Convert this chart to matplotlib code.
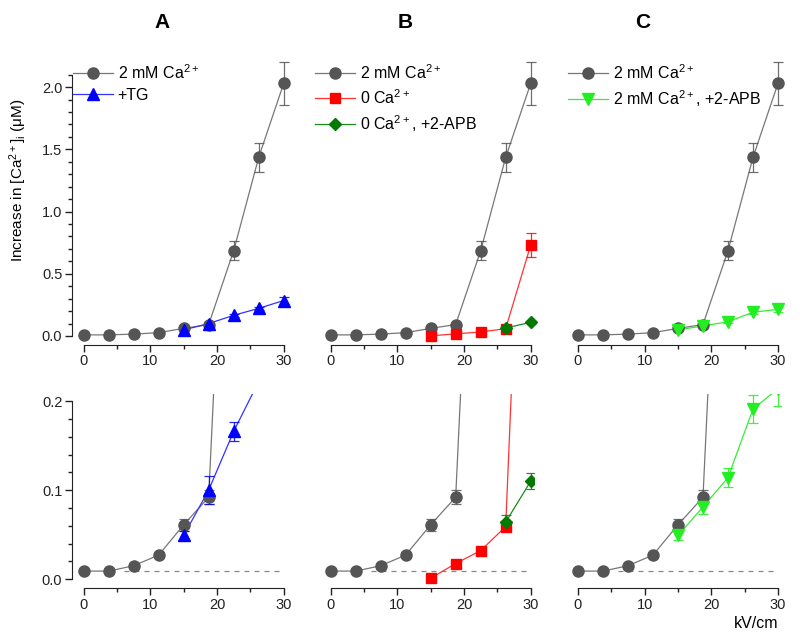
import matplotlib
matplotlib.use("Agg")
import matplotlib.pyplot as plt
from matplotlib.ticker import MultipleLocator

plt.rcParams['font.family'] = ['Liberation Sans', 'DejaVu Sans']
plt.rcParams['mathtext.default'] = 'regular'

# field strength (kV/cm)
kv = [0, 3.75, 7.5, 11.25, 15, 18.75, 22.5, 26.25, 30]
kv_hi = [15, 18.75, 22.5, 26.25, 30]
kv_end = [26.25, 30]

# 2 mM Ca2+ (control, shown in every panel)
ctrl = [0.009, 0.009, 0.015, 0.027, 0.061, 0.092, 0.685, 1.435, 2.03]
ctrl_err = [0.001, 0.001, 0.002, 0.003, 0.007, 0.008, 0.078, 0.115, 0.171]

# A: +TG
tg = [0.049, 0.100, 0.166, 0.222, 0.285]
tg_err = [0.005, 0.016, 0.011, 0.012, 0.03]

# B: 0 Ca2+ and 0 Ca2+ +2-APB
zero = [0.001, 0.0175, 0.032, 0.059, 0.73]
zero_err = [0.002, 0.002, 0.003, 0.004, 0.095]
zero_apb = [0.064, 0.110]
zero_apb_err = [0.008, 0.009]

# C: 2 mM Ca2+ +2-APB
apb = [0.049, 0.081, 0.114, 0.191, 0.214]
apb_err = [0.005, 0.008, 0.011, 0.016, 0.02]

baseline = 0.009

GRAY = '#555555'
panels = [
    ('A', [(tg, tg_err, kv_hi, '^', '#0000ff', '#3333ff', '+TG', 8)]),
    ('B', [(zero, zero_err, kv_hi, 's', '#ff0000', '#ff3333', '0 Ca$^{2+}$', 7),
           (zero_apb, zero_apb_err, kv_end, 'D', '#007a00', '#1a8a1a', '0 Ca$^{2+}$, +2-APB', 6.5)]),
    ('C', [(apb, apb_err, kv_hi, 'v', '#22ee22', '#33ee33', '2 mM Ca$^{2+}$, +2-APB', 8)]),
]

fig = plt.figure(figsize=(8, 6.4), dpi=100)

lefts = [72, 319, 566.3]
width = 32.25 * 6.667 / 800
title_x = [162, 405, 643]


def draw(ax, ys, err, xs, mk, mcol, lcol, label, ms, clip):
    line, = ax.plot(xs, ys, color=lcol, lw=0.9, zorder=2, clip_on=clip)
    ax.errorbar(xs, ys, yerr=err, fmt='none', ecolor=mcol, elinewidth=0.9,
                capsize=3.5, capthick=0.9, zorder=2, clip_on=clip, alpha=0.85)
    ax.plot(xs, ys, mk, color=mcol, ms=ms, mec=mcol, zorder=3, clip_on=clip)
    return line


for i, (letter, series) in enumerate(panels):
    top = fig.add_axes([lefts[i] / 800, 1 - 344.7 / 640, width, 270 / 640])
    bot = fig.add_axes([lefts[i] / 800, 1 - 588 / 640, width, 194 / 640])

    for ax, clip in ((top, False), (bot, True)):
        draw(ax, ctrl, ctrl_err, kv, 'o', GRAY, '#777777', '2 mM Ca$^{2+}$', 8, clip)
        for s in series:
            draw(ax, *s, clip=clip)
        ax.set_xlim(-1.75, 30.5)
        for side in ('top', 'right'):
            ax.spines[side].set_visible(False)
        ax.spines['bottom'].set_bounds(0, 30)
        ax.xaxis.set_major_locator(MultipleLocator(10))
        ax.xaxis.set_minor_locator(MultipleLocator(5))
        ax.tick_params(axis='both', which='major', length=5, width=1, labelsize=10.5,
                       colors='#222222', pad=2)
        ax.tick_params(axis='both', which='minor', length=3, width=1, colors='#222222')
        for sp in ax.spines.values():
            sp.set_color('#222222')
        if i == 0:
            ax.spines['left'].set_visible(True)
        else:
            ax.spines['left'].set_visible(False)
            ax.tick_params(axis='y', which='both', left=False, labelleft=False)

    top.set_ylim(-0.07, 2.1)
    top.spines['left'].set_bounds(0, 2.1)
    top.yaxis.set_major_locator(MultipleLocator(0.5))
    top.yaxis.set_minor_locator(MultipleLocator(0.1))
    top.yaxis.set_major_formatter(lambda v, p: f'{v:.1f}')

    bot.set_ylim(-0.01, 0.208)
    bot.spines['left'].set_bounds(0, 0.2)
    bot.yaxis.set_major_locator(MultipleLocator(0.1))
    bot.yaxis.set_minor_locator(MultipleLocator(0.02))
    bot.yaxis.set_major_formatter(lambda v, p: f'{v:.1f}')
    bot.hlines(baseline, 6, 30, colors='#888888', linestyles=(0, (4, 4)), lw=0.9, zorder=1)

    # legend with line + marker handles
    handles = []
    h = top.plot([], [], '-o', color='#777777', mfc=GRAY, mec=GRAY, ms=8, lw=0.9)[0]
    handles.append(h)
    labels = ['2 mM Ca$^{2+}$']
    for s in series:
        hh = top.plot([], [], '-' + s[3], color=s[5], mfc=s[4], mec=s[4], ms=s[7], lw=0.9)[0]
        handles.append(hh)
        labels.append(s[6])
    leg_x = [73, 315, 568][i]
    top.legend(handles, labels, loc='upper left', frameon=False, fontsize=11.5,
               bbox_to_anchor=(leg_x / 800, 1 - 63 / 640), bbox_transform=fig.transFigure,
               borderpad=0, borderaxespad=0, handlelength=2.5, handletextpad=0.3,
               labelspacing=0.4, numpoints=1)

    fig.text(title_x[i] / 800, 1 - 22 / 640, letter, fontsize=15, fontweight='bold',
             ha='center', va='center')

fig.text(18 / 800, 1 - 180 / 640, 'Increase in [Ca$^{2+}$]$_i$ (\u03bcM)', rotation=90,
         ha='center', va='center', fontsize=11)
fig.text(778 / 800, 1 - 623 / 640, 'kV/cm', ha='right', va='center', fontsize=11.5)

fig.savefig('out.png', dpi=100)
